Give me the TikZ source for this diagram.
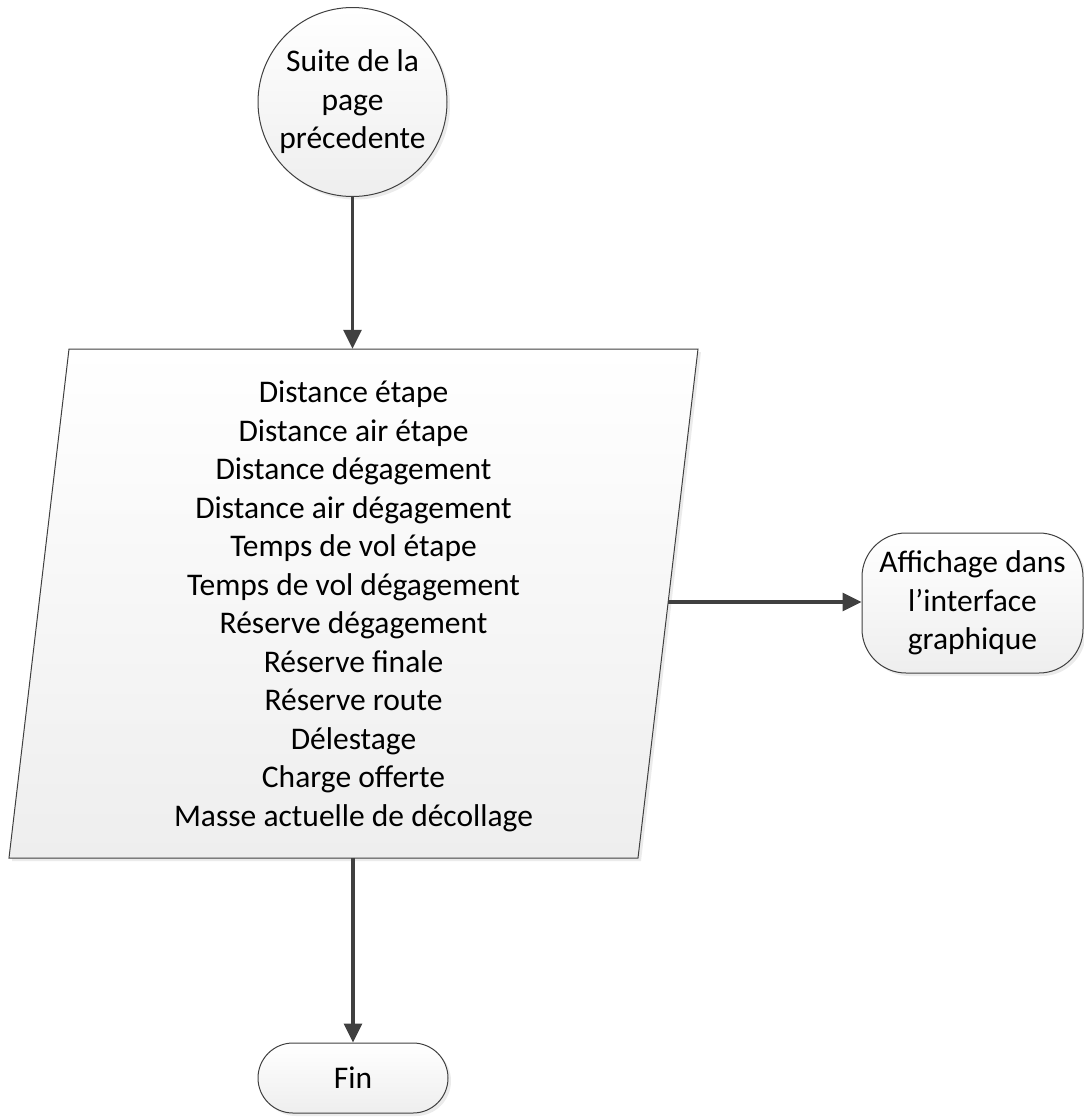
\documentclass[tikz,border=0pt]{standalone}
\usepackage{fontspec}
\setmainfont{Carlito}
\usetikzlibrary{arrows.meta,shadows}
\definecolor{edge}{HTML}{404040}
\definecolor{fillbot}{HTML}{EEEEEE}
\begin{document}
\begin{tikzpicture}[x=1pt,y=-1pt,
  every node/.style={font=\fontsize{31.5}{38.5}\selectfont, text=black, align=center},
  shapebox/.style={draw=edge, line width=1pt, top color=white, bottom color=fillbot,
    drop shadow={shadow xshift=3pt, shadow yshift=-3pt, fill=black, opacity=0.08}},
  flow/.style={draw=edge, line width=3.2pt, -{Triangle[length=19pt,width=18pt]}}]
\useasboundingbox (0,0) rectangle (1084,1117);

% connector node
\node[shapebox, circle, minimum size=189pt, inner sep=0pt] (start) at (352.5,102)
  {Suite de la\\page\\précedente};

% data block (parallelogram)
\path[shapebox] (69,349) -- (698,349) -- (638,858) -- (9,858) -- cycle;
\node[minimum width=560pt, minimum height=509pt, inner sep=0pt] (data) at (353.5,603.5) {};
\node (datatext) at (353.5,606.5)
  {Distance étape\\
   Distance air étape\\
   Distance dégagement\\
   Distance air dégagement\\
   Temps de vol étape\\
   Temps de vol dégagement\\
   Réserve dégagement\\
   Réserve finale\\
   Réserve route\\
   Délestage\\
   Charge offerte\\
   Masse actuelle de décollage};
\coordinate (dataE) at (668,602);

% display step
\node[shapebox, rectangle, rounded corners=44pt, minimum width=221pt, minimum height=140pt,
  inner sep=0pt] (show) at (972.5,603) {Affichage dans\\l’interface\\graphique};

% terminator
\node[shapebox, rectangle, rounded corners=35pt, minimum width=190pt, minimum height=70pt,
  inner sep=0pt] (fin) at (353,1078) {Fin};

% connectors
\draw[flow] (start.south) -- (data.north -| start.south);
\draw[flow] (dataE) -- (show.west |- dataE);
\draw[flow] (data.south -| fin.north) -- (fin.north);
\end{tikzpicture}
\end{document}
